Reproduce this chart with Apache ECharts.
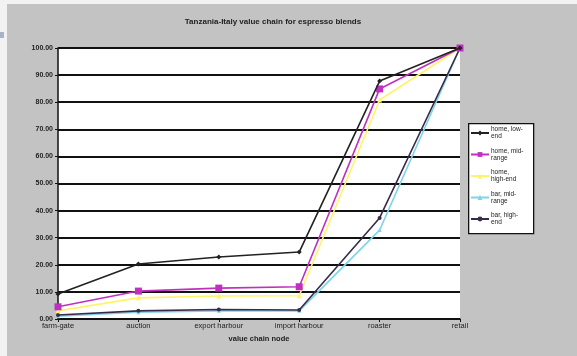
<!DOCTYPE html>
<html>
<head>
<meta charset="utf-8">
<script src="https://cdn.jsdelivr.net/npm/echarts@6/dist/echarts.min.js"></script>
<style>
  html, body { margin: 0; padding: 0; background: #f2f2f2; }
  #chart { width: 577px; height: 356px; }
</style>
</head>
<body>
<div id="chart"></div>
<script>
// Value chain nodes along the x axis
const nodes = ['farm-gate', 'auction', 'export harbour', 'import harbour', 'roaster', 'retail'];

// Cumulative share of retail value (%) at each node
const homeLowEnd   = [9.2, 20.3, 22.9, 24.7, 87.8, 100];
const homeMidRange = [4.5, 10.3, 11.4, 11.9, 84.9, 100];
const homeHighEnd  = [3.0, 7.8, 8.5, 8.6, 80.8, 100];
const barMidRange  = [1.0, 2.5, 3.0, 3.0, 32.8, 100];
const barHighEnd   = [1.5, 3.0, 3.5, 3.3, 37.3, 100];

const seriesNames = ['home, low-\nend', 'home, mid-\nrange', 'home,\nhigh-end', 'bar, mid-\nrange', 'bar, high-\nend'];

const yTicks = { min: 0, max: 100, interval: 10 };

const chart = echarts.init(document.getElementById('chart'));

function line(name, data, color, symbol, size, z) {
  return {
    name: name,
    type: 'line',
    data: data,
    symbol: symbol,
    symbolSize: size,
    z: z,
    lineStyle: { color: color, width: 1.6 },
    itemStyle: { color: color },
    emphasis: { disabled: true }
  };
}

const font = 'Liberation Sans';

chart.setOption({
  animation: false,
  backgroundColor: 'transparent',
  graphic: [
    // grey chart area with a light margin on the left and top
    { type: 'rect', left: 7, top: 4, shape: { width: 570, height: 352 }, style: { fill: '#c3c3c3' }, z: -10 },
    { type: 'rect', left: 0, top: 32, shape: { width: 4, height: 6 }, style: { fill: '#a9b3c6' }, z: -10 },
    // legend frame
    { type: 'rect', left: 468, top: 123, shape: { width: 65, height: 110 },
      style: { fill: '#ffffff', stroke: '#111', lineWidth: 1.3 }, z: 0 }
  ],
  title: {
    text: 'Tanzania-Italy value chain for espresso blends',
    left: 268, top: 13, textAlign: 'center',
    textStyle: { fontFamily: font, fontSize: 8, fontWeight: 'bold', color: '#222' }
  },
  legend: {
    data: seriesNames,
    orient: 'vertical',
    left: 470, top: 126,
    padding: 0,
    itemGap: 7.5,
    itemWidth: 18, itemHeight: 6,
    selectedMode: false,
    z: 5,
    textStyle: { fontFamily: font, fontSize: 6.5, lineHeight: 7, color: '#222', padding: [0, 0, 0, -3] }
  },
  grid: { left: 58, right: 117, top: 48, bottom: 37 },
  xAxis: {
    type: 'category',
    data: nodes,
    boundaryGap: false,
    name: 'value chain node',
    nameLocation: 'middle',
    nameGap: 16,
    nameTextStyle: { fontFamily: font, fontSize: 7.5, fontWeight: 'bold', color: '#222' },
    axisLine: { lineStyle: { color: '#111', width: 1.5 } },
    axisTick: { show: true, alignWithLabel: true, length: 3, lineStyle: { color: '#111' } },
    axisLabel: { fontFamily: font, fontSize: 7.5, color: '#222', margin: 3 },
    splitLine: { show: false }
  },
  yAxis: {
    type: 'value',
    min: yTicks.min, max: yTicks.max, interval: yTicks.interval,
    axisLine: { show: true, lineStyle: { color: '#111', width: 1.5 } },
    axisTick: { show: true, length: 3, lineStyle: { color: '#111' } },
    axisLabel: {
      fontFamily: font, fontSize: 7, fontWeight: 'bold', color: '#222', margin: 5,
      formatter: v => v.toFixed(2)
    },
    splitLine: { show: true, lineStyle: { color: '#111', width: 2 } },
    splitArea: { show: true, areaStyle: { color: ['#ffffff', '#ffffff'] } }
  },
  series: [
    line(seriesNames[3], barMidRange, '#7fd4e8', 'triangle', 4, 3),
    line(seriesNames[4], barHighEnd, '#3a2a4a', 'circle', 4, 4),
    line(seriesNames[2], homeHighEnd, '#fff36a', 'triangle', 5, 5),
    line(seriesNames[1], homeMidRange, '#c030c0', 'rect', 7, 6),
    line(seriesNames[0], homeLowEnd, '#222222', 'diamond', 5, 7)
  ]
});
</script>
</body>
</html>
